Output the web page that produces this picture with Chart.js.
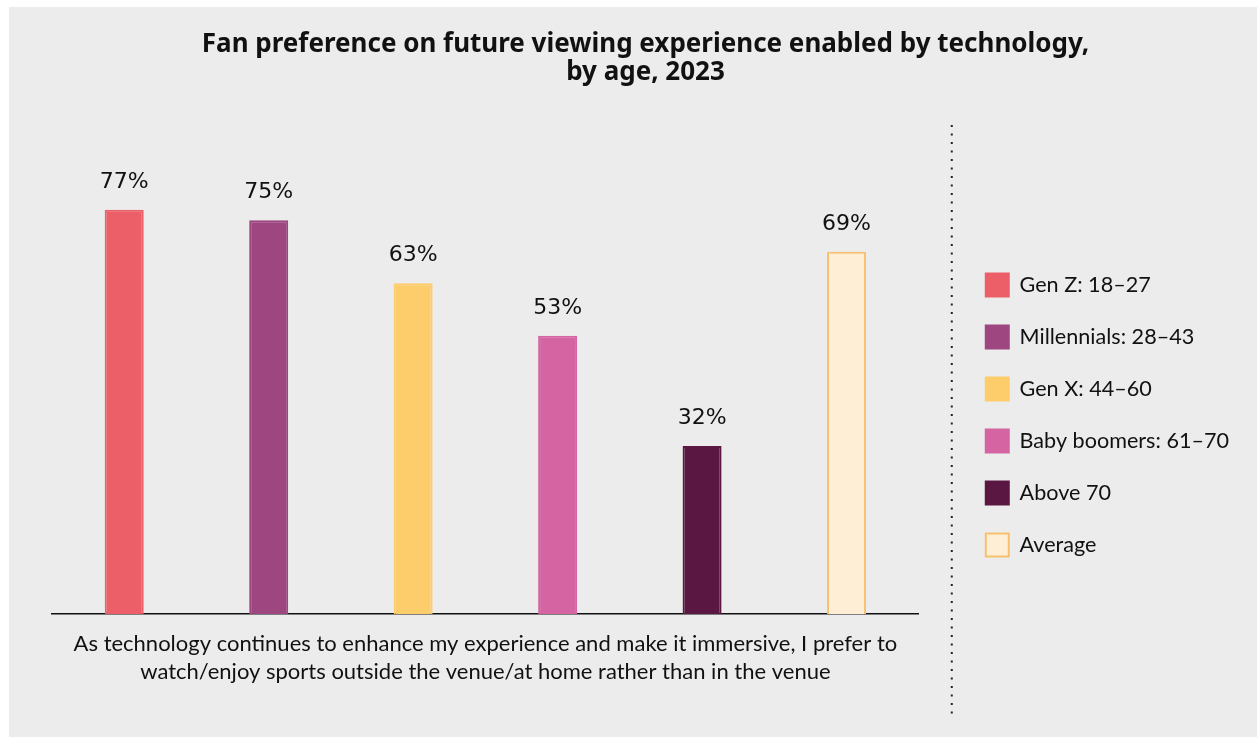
<!DOCTYPE html>
<html>
<head>
<meta charset="utf-8">
<script src="https://cdn.jsdelivr.net/npm/chart.js@4/dist/chart.umd.min.js"></script>
<style>
  body { margin: 0; background: #fff; }
  #wrap { position: absolute; left: 9px; top: 7px; width: 1248px; height: 730px; background: #ececec; }
</style>
</head>
<body>
<div id="wrap"><canvas id="chart"></canvas></div>
<script>
var groups = ['Gen Z: 18–27', 'Millennials: 28–43', 'Gen X: 44–60', 'Baby boomers: 61–70', 'Above 70', 'Average'];
var values = [77, 75, 63, 53, 32, 69];
var fills = ['#ec5f69', '#9e4680', '#fecd6b', '#d465a2', '#5a1742', '#feeed6'];
var borders = ['#ec5f69', '#9e4680', '#fecd6b', '#d465a2', '#5a1742', '#f8c06d'];
var axisLabel = ['As technology continues to enhance my experience and make it immersive, I prefer to',
                 'watch/enjoy sports outside the venue/at home rather than in the venue'];

// value labels above the bars
var barLabels = {
  id: 'barLabels',
  afterDatasetsDraw: function(chart) {
    var ctx = chart.ctx;
    var meta = chart.getDatasetMeta(0);
    ctx.save();
    ctx.font = '22px "DejaVu Sans"';
    ctx.fillStyle = '#111';
    ctx.textAlign = 'center';
    ctx.textBaseline = 'alphabetic';
    meta.data.forEach(function(bar, i) {
      ctx.fillText(values[i] + '%', bar.x, bar.y - 22);
    });
    ctx.restore();
  }
};

// dotted separator left of the legend
var divider = {
  id: 'divider',
  afterDraw: function(chart) {
    var ctx = chart.ctx;
    var x = chart.legend.left - 5;
    ctx.save();
    ctx.strokeStyle = '#222';
    ctx.lineWidth = 2;
    ctx.setLineDash([2, 6.5]);
    ctx.beginPath();
    ctx.moveTo(x, 118);
    ctx.lineTo(x, 708);
    ctx.stroke();
    ctx.restore();
  }
};

new Chart(document.getElementById('chart'), {
  type: 'bar',
  data: {
    labels: groups,
    datasets: [{
      data: values,
      backgroundColor: fills,
      borderColor: borders,
      borderWidth: 2,
      barPercentage: 0.27,
      categoryPercentage: 1
    }]
  },
  options: {
    responsive: true,
    maintainAspectRatio: false,
    animation: false,
    layout: { padding: { left: 43, right: 18, top: 0, bottom: 0 } },
    scales: {
      x: {
        grid: { display: false },
        ticks: { display: false },
        border: { color: '#111', width: 1.5 },
        title: {
          display: true,
          text: axisLabel,
          color: '#111',
          font: { family: 'Lato', size: 22, lineHeight: 1.27 },
          padding: { top: 0, bottom: 51 }
        },
        afterFit: function(s) { s.height = 123; }
      },
      y: {
        display: false,
        min: 0,
        max: 100
      },
      gap: {
        position: 'right',
        display: true,
        grid: { display: false },
        ticks: { display: false },
        border: { display: false },
        afterFit: function(s) { s.width = 38; }
      }
    },
    plugins: {
      title: {
        display: true,
        text: ['Fan preference on future viewing experience enabled by technology,', 'by age, 2023'],
        color: '#111',
        font: { family: 'Noto Sans', size: 26, weight: 'bold', lineHeight: 1.077 },
        padding: { top: 24, bottom: 2 }
      },
      legend: {
        position: 'right',
        align: 'center',
        title: {
          display: true,
          text: ' ',
          font: { size: 12, lineHeight: 1.2 },
          padding: { top: 71.6, bottom: 0 }
        },
        labels: {
          boxWidth: 23,
          boxHeight: 23,
          padding: 29,
          color: '#111',
          font: { family: 'Lato', size: 21.6 },
          generateLabels: function(chart) {
            return groups.map(function(g, i) {
              return { text: g, fillStyle: fills[i], strokeStyle: borders[i], fontColor: '#111', lineWidth: 2, index: i };
            });
          }
        },
        onClick: null
      },
      tooltip: { enabled: false }
    }
  },
  plugins: [barLabels, divider]
});
</script>
</body>
</html>
